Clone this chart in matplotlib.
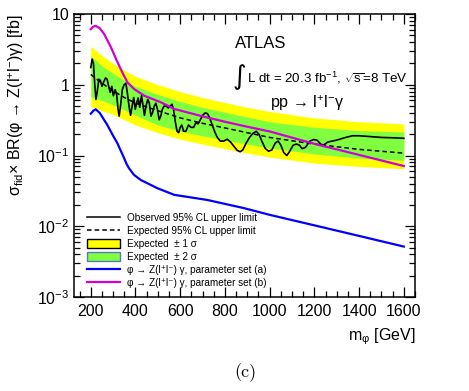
import numpy as np
import matplotlib
matplotlib.use('Agg')
import matplotlib.pyplot as plt
from matplotlib.lines import Line2D
from matplotlib.patches import Patch
from matplotlib.ticker import MultipleLocator, FixedLocator, LogLocator, NullFormatter

plt.rcParams['font.family'] = ['Liberation Sans', 'DejaVu Sans']
plt.rcParams['mathtext.fontset'] = 'custom'
plt.rcParams['mathtext.rm'] = 'Liberation Sans'
plt.rcParams['mathtext.it'] = 'Liberation Sans:italic'
plt.rcParams['mathtext.bf'] = 'Liberation Sans:bold'

# expected limit and bands
mass_exp = [200, 250, 300, 350, 400, 500, 600, 700, 800, 900, 1000, 1200, 1400, 1600]
expected = [1.40, 1.05, 0.82, 0.66, 0.55, 0.43, 0.34, 0.285, 0.245, 0.21, 0.18, 0.145, 0.122, 0.108]
yellow_hi = [3.5, 2.6, 2.0, 1.6, 1.32, 1.0, 0.80, 0.66, 0.56, 0.48, 0.42, 0.34, 0.30, 0.28]
green_hi = [2.55, 1.85, 1.45, 1.15, 0.95, 0.73, 0.58, 0.48, 0.41, 0.35, 0.30, 0.25, 0.225, 0.215]
green_lo = [0.68, 0.60, 0.52, 0.44, 0.37, 0.27, 0.22, 0.19, 0.165, 0.145, 0.128, 0.105, 0.092, 0.085]
yellow_lo = [0.49, 0.43, 0.38, 0.32, 0.27, 0.21, 0.17, 0.145, 0.125, 0.108, 0.095, 0.078, 0.07, 0.065]

# observed limit
mass_obs = [200, 206, 212, 218, 223, 229, 236, 243, 250, 258, 266, 273, 280, 287, 294, 301,
            309, 316, 322, 327, 333, 341, 349, 357, 364, 371, 378, 385, 392, 399, 405, 412,
            419, 427, 434, 440, 447, 455, 462, 469, 476, 484, 491, 498, 506, 513, 520, 528,
            537, 547, 555, 563, 570, 578, 586, 593, 600, 607, 615, 625, 637, 648, 660, 670,
            680, 690, 700, 712, 722, 732, 745, 756, 766, 779, 795, 810, 825, 840, 855, 868,
            880, 895, 910, 925, 940, 952, 965, 980, 995, 1010, 1025, 1038, 1050, 1063, 1077,
            1090, 1105, 1120, 1133, 1145, 1160, 1180, 1197, 1212, 1228, 1240, 1260, 1300,
            1340, 1370, 1400, 1450, 1500, 1550, 1600]
observed = [1.75, 2.3, 2.0, 1.0, 0.62, 0.8, 1.2, 1.15, 0.95, 1.1, 1.25, 1.2, 0.95, 0.78, 0.95, 0.7,
            0.85, 0.72, 0.45, 0.36, 0.5, 0.85, 1.0, 1.05, 0.75, 0.5, 0.37, 0.5, 0.66, 0.45, 0.55, 0.65,
            0.48, 0.7, 0.5, 0.37, 0.5, 0.62, 0.55, 0.36, 0.4, 0.5, 0.55, 0.45, 0.32, 0.36, 0.45, 0.5,
            0.5, 0.47, 0.5, 0.53, 0.45, 0.3, 0.22, 0.21, 0.25, 0.27, 0.22, 0.22, 0.27, 0.25, 0.25, 0.29,
            0.28, 0.32, 0.37, 0.40, 0.39, 0.34, 0.26, 0.21, 0.18, 0.16, 0.16, 0.17, 0.155, 0.135, 0.118, 0.113,
            0.12, 0.15, 0.18, 0.205, 0.22, 0.2, 0.16, 0.126, 0.115, 0.12, 0.15, 0.16, 0.14, 0.11, 0.10,
            0.115, 0.14, 0.145, 0.14, 0.125, 0.13, 0.16, 0.168, 0.165, 0.145, 0.14, 0.155, 0.165,
            0.18, 0.19, 0.19, 0.185, 0.18, 0.178, 0.175]

# signal predictions
mass_a = [200, 212, 222, 240, 274, 300, 319, 335, 349, 360, 371, 394, 424, 498, 573, 722, 886, 1000, 1200, 1400, 1600]
sig_a = [0.39, 0.43, 0.45, 0.40, 0.27, 0.19, 0.149, 0.115, 0.092, 0.076, 0.066, 0.053, 0.045, 0.0345,
         0.0278, 0.0235, 0.018, 0.0145, 0.0103, 0.0073, 0.00516]
mass_b = [200, 210, 222, 240, 260, 290, 319, 341, 364, 394, 439, 513, 573, 704, 800, 900, 1002, 1204, 1400, 1600]
sig_b = [6.1, 6.6, 6.8, 6.3, 5.2, 3.4, 2.1, 1.5, 1.08, 0.87, 0.70, 0.566, 0.455, 0.355, 0.30, 0.255,
         0.218, 0.145, 0.102, 0.071]

fig = plt.figure(figsize=(4.69, 3.91), dpi=100)
ax = fig.add_axes([74/469, 1-297/391, 341/469, 283/391])

ax.fill_between(mass_exp, yellow_lo, yellow_hi, color='#ffff00', lw=0)
ax.fill_between(mass_exp, green_lo, green_hi, color='#80ff40', lw=0)
ax.plot(mass_exp, expected, color='black', lw=1.1, ls=(0, (3, 2)))
ax.plot(mass_obs, observed, color='black', lw=1.2)
ax.plot(mass_a, sig_a, color='#0000ff', lw=1.6)
ax.plot(mass_b, sig_b, color='#d000d8', lw=1.6)

ax.set_yscale('log')
ax.set_xlim(125, 1650)
ax.set_ylim(1e-3, 10)

ax.xaxis.set_major_locator(MultipleLocator(200))
ax.xaxis.set_minor_locator(MultipleLocator(50))
ax.yaxis.set_major_locator(FixedLocator([1e-3, 1e-2, 1e-1, 1, 10]))
ax.yaxis.set_minor_locator(LogLocator(base=10, subs=np.arange(2, 10)))
ax.yaxis.set_minor_formatter(NullFormatter())
ax.set_yticklabels(['10$^{-3}$', '10$^{-2}$', '10$^{-1}$', '1', '10'])
ax.tick_params(which='both', direction='in', top=True, right=True, labelsize=11.5, width=0.9)
ax.tick_params(which='major', length=7)
ax.tick_params(which='minor', length=4)
ax.tick_params(axis='x', pad=5)
for s in ax.spines.values():
    s.set_linewidth(1.1)

ax.set_ylabel('σ$_{\\rm fid}$× BR(φ → Z(l$^{+}$l$^{-}$)γ) [fb]', fontsize=11.5, loc='top')
ax.yaxis.set_label_coords(-0.14, 1.0)
ax.set_xlabel('m$_{\\mathrm{φ}}$ [GeV]', fontsize=11.5, loc='right')
ax.xaxis.set_label_coords(1.0, -0.105)

fig.text(235/469, 1-43/391, 'ATLAS', fontsize=12, va='center', ha='left')
fig.text(233/469, 1-77/391, '∫', fontsize=19, va='center', ha='left', family='DejaVu Sans')
fig.text(247/469, 1-78/391, 'L dt = 20.3 fb$^{-1}$, $\\sqrt{\\mathrm{s}}$=8 TeV', fontsize=9.6,
         va='center', ha='left')
fig.text(270/469, 1-103/391, 'pp → l$^{+}$l$^{-}$γ', fontsize=11.5, va='center', ha='left')
fig.text(245/469, 1-373/391, '(c)', fontsize=13, family='cmr10', va='center', ha='center')

handles = [
    Line2D([], [], color='black', lw=1.1),
    Line2D([], [], color='black', lw=1.1, ls=(0, (3, 2))),
    Patch(facecolor='#ffff00', edgecolor='black', lw=1.0),
    Patch(facecolor='#80ff40', edgecolor='#5a78c0', lw=1.0),
    Line2D([], [], color='#0000ff', lw=1.6),
    Line2D([], [], color='#d000d8', lw=1.6),
]
labels = [
    'Observed 95% CL upper limit',
    'Expected 95% CL upper limit',
    'Expected  ± 1 σ',
    'Expected  ± 2 σ',
    'φ → Z(l⁺l⁻) γ, parameter set (a)',
    'φ → Z(l⁺l⁻) γ, parameter set (b)',
]
fig.legend(handles, labels, loc='upper left', bbox_to_anchor=(87/469, 1-213/391),
           bbox_transform=fig.transFigure, frameon=False, fontsize=7.2, borderpad=0,
           borderaxespad=0, handlelength=3.3, handletextpad=0.7, labelspacing=0.3,
           handleheight=0.9)

fig.savefig('out.png', dpi=100)
